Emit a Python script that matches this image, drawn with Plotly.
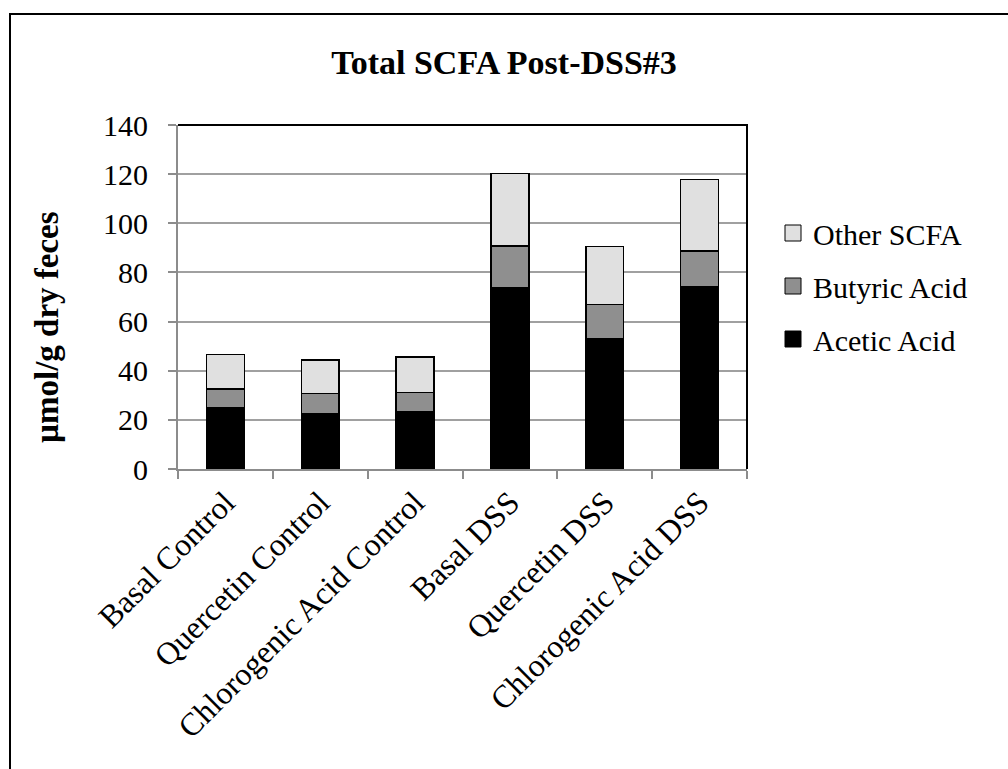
import plotly.graph_objects as go

categories = ["Basal Control", "Quercetin Control", "Chlorogenic Acid Control",
              "Basal DSS", "Quercetin DSS", "Chlorogenic Acid DSS"]
acetic = [25.0, 22.4, 23.2, 73.6, 53.2, 74.0]
butyric = [7.5, 8.4, 7.9, 17.2, 13.8, 14.8]
other = [14.2, 13.5, 14.4, 29.4, 23.5, 29.0]
y_ticks = [0, 20, 40, 60, 80, 100, 120, 140]

series = [("Acetic Acid", acetic, "#000000"),
          ("Butyric Acid", butyric, "#8f8f8f"),
          ("Other SCFA", other, "#e0e0e0")]

FONT = "Liberation Serif"
fig = go.Figure()
for name, vals, col in series:
    fig.add_trace(go.Bar(x=categories, y=vals, name=name, marker_color=col,
                         marker_line=dict(color="#000000", width=1.5),
                         showlegend=False))
# legend entries, top to bottom: Other SCFA, Butyric Acid, Acetic Acid
for name, vals, col in reversed(series):
    fig.add_trace(go.Scatter(x=[None], y=[None], mode="markers", name=name,
                             legendgroup=name,
                             marker=dict(symbol="square", size=16, color=col,
                                         line=dict(color="#000000", width=1))))

W, H = 1008, 769
L, R, T, B = 178, 747, 125, 469
def px(x):
    return (x - L) / (R - L)
def py(y):
    return (B - y) / (B - T)

fig.update_layout(
    width=W, height=H,
    margin=dict(l=L, r=W - R, t=T, b=H - B),
    barmode="stack", bargap=0.6,
    plot_bgcolor="white", paper_bgcolor="white",
    font=dict(family=FONT, color="#000000", size=30),
    title=dict(text="<b>Total SCFA Post-DSS#3</b>", x=0.5, xanchor="center",
               y=1 - 62 / H, yanchor="middle", font=dict(size=34, family=FONT)),
    legend=dict(x=px(773), y=py(207), xanchor="left", yanchor="top",
                traceorder="grouped", tracegroupgap=11,
                font=dict(size=30, family=FONT), itemsizing="trace"),
    xaxis=dict(tickangle=-45, showline=True, linecolor="#8c8c8c", linewidth=2,
               ticks="outside", tickson="boundaries", ticklen=8, tickcolor="#8c8c8c",
               tickwidth=2, tickfont=dict(size=32, family=FONT), showgrid=False),
    yaxis=dict(range=[0, 140], tickvals=y_ticks, showline=True, linecolor="#8c8c8c",
               linewidth=2, ticks="outside", ticklen=8, tickcolor="#8c8c8c",
               tickwidth=2, gridcolor="#a0a0a0", gridwidth=1.5,
               tickfont=dict(size=30, family=FONT), zeroline=False,
               ticklabelstandoff=14),
)

fig.add_annotation(text="<b>µmol/g dry feces</b>", xref="paper", yref="paper",
                   x=px(47), y=py(327), textangle=-90, showarrow=False,
                   font=dict(size=33, family=FONT), xanchor="center", yanchor="middle")

# plot area border top and right
fig.add_shape(type="path", xref="paper", yref="paper",
              path="M 0 1 L 1 1 L 1 0", line=dict(color="#000000", width=2))
# outer chart border (top and left visible)
fig.add_shape(type="path", xref="paper", yref="paper",
              path=f"M {px(1010)} {py(14)} L {px(10)} {py(14)} L {px(10)} {py(775)}",
              line=dict(color="#000000", width=2))

fig.write_html("out.html")
